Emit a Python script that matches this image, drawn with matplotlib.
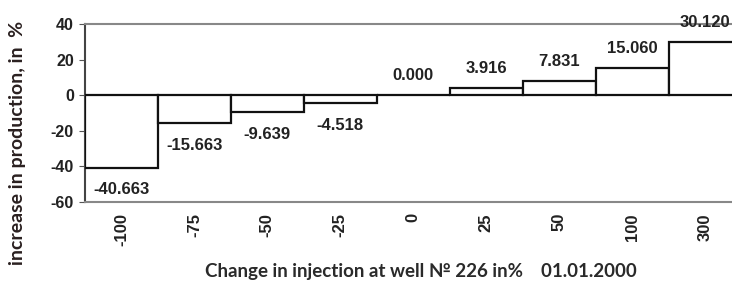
import matplotlib.pyplot as plt
import numpy as np

# change in injection (%) and resulting increase in production (%)
categories = ['-100', '-75', '-50', '-25', '0', '25', '50', '100', '300']
values = [-40.663, -15.663, -9.639, -4.518, 0.000, 3.916, 7.831, 15.060, 30.120]
yticks = [-60, -40, -20, 0, 20, 40]

fig = plt.figure(figsize=(7.32, 2.84), dpi=100)
ax = fig.add_axes([85 / 732, 1 - 202 / 284, 656.5 / 732, 178 / 284])

x = np.arange(len(categories))
ax.bar(x, values, width=1.0, color='white', edgecolor='#111111', linewidth=1.6, zorder=3)
ax.axhline(0, color='#222222', linewidth=1.3, zorder=2)

for xi, v in zip(x, values):
    off = -16 if v < 0 else 14
    ax.annotate(f'{v:.3f}', (xi, v), xytext=(0, off), textcoords='offset points',
                ha='center', va='center', fontsize=12, fontweight='bold',
                family='Liberation Sans', color='#222222')

ax.set_xlim(-0.5, len(categories) - 0.5)
ax.set_ylim(-60, 40)
ax.set_yticks(yticks)
ax.set_yticklabels([str(t) for t in yticks], fontsize=11.5, fontweight='bold',
                   family='Liberation Sans', color='#222222')
ax.set_xticks(x)
ax.set_xticklabels(categories, rotation=90, fontsize=12, fontweight='bold',
                   family='Liberation Sans', color='#222222')
ax.tick_params(axis='x', length=0, pad=8)
ax.tick_params(axis='y', length=4, color='#555555', pad=4)

for s in ['top', 'bottom']:
    ax.spines[s].set_color('#888888')
    ax.spines[s].set_linewidth(1.5)
ax.spines['left'].set_color('#444444')
ax.spines['left'].set_linewidth(1.5)
ax.spines['right'].set_visible(False)

fig.text(18 / 732, 1 - 143 / 284, 'increase in production, in  %', rotation=90,
         ha='center', va='center', fontsize=14, fontweight='bold',
         family='Lato', color='#2a2020')
fig.text(421 / 732, 1 - 272 / 284, 'Change in injection at well \u2116 226 in%    01.01.2000',
         ha='center', va='center', fontsize=13.5, fontweight='bold',
         family='Lato', color='#2a2a2a')

fig.savefig('out.png', dpi=100)
